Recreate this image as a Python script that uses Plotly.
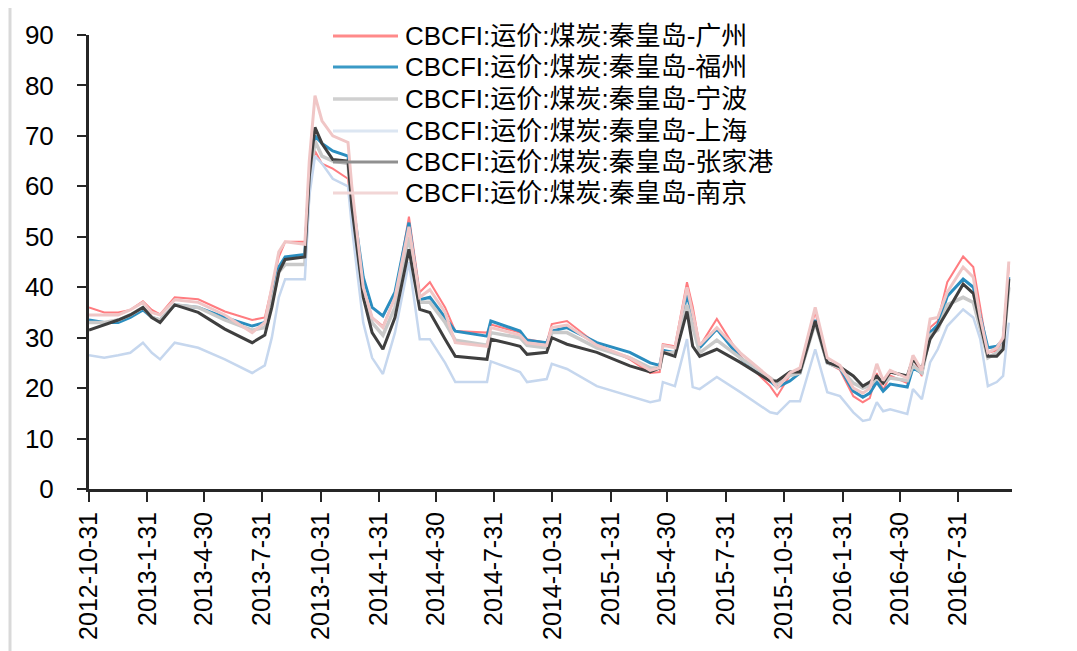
import plotly.graph_objects as go

dates = [
    "2012-10-31", "2012-11-24", "2012-12-16", "2013-01-04", "2013-01-24", "2013-02-07",
    "2013-02-20", "2013-03-15", "2013-04-21", "2013-06-02", "2013-07-15", "2013-08-04",
    "2013-08-15", "2013-08-26", "2013-09-05", "2013-10-06", "2013-10-13", "2013-10-22",
    "2013-11-02", "2013-11-19", "2013-12-13", "2013-12-19", "2014-01-06", "2014-01-20",
    "2014-02-06", "2014-02-25", "2014-03-19", "2014-04-05", "2014-04-21", "2014-05-15",
    "2014-05-31", "2014-07-20", "2014-07-26", "2014-09-10", "2014-09-21", "2014-10-22",
    "2014-10-30", "2014-11-23", "2015-01-09", "2015-03-02", "2015-04-03", "2015-04-18",
    "2015-04-23", "2015-05-12", "2015-05-31", "2015-06-09", "2015-06-20", "2015-07-17",
    "2015-08-23", "2015-10-09", "2015-10-20", "2015-11-09", "2015-11-25", "2015-12-19",
    "2016-01-07", "2016-01-27", "2016-02-17", "2016-03-03", "2016-03-14", "2016-03-25",
    "2016-04-04", "2016-04-15", "2016-05-12", "2016-05-21", "2016-06-04", "2016-06-17",
    "2016-06-29", "2016-07-14", "2016-08-08", "2016-08-24", "2016-09-04", "2016-09-16",
    "2016-09-30", "2016-10-10", "2016-10-19",
]

guangzhou = [36, 35, 35, 35.5, 37.2, 35.5, 34.6, 38, 37.6, 35.2, 33.5, 34,
             40, 46, 49, 49, 60, 67, 64.5, 63.5, 61.5, 55, 40, 34,
             32.3, 38, 54, 39, 41, 36, 31.3, 31, 32.6, 31, 29.7, 29,
             32.7, 33.3, 28.7, 25.7, 23, 23.2, 28.7, 28.3, 41, 36.2, 28.3, 33.7,
             26.3, 20.4, 18.4, 22.5, 23.8, 35.2, 25, 23.6, 18.4, 17.2, 18, 23,
             19.6, 22.5, 21, 26, 22.4, 32, 33.3, 41, 46.1, 44, 36, 27,
             27.5, 29.5, 44.2]
fuzhou = [33.5, 33, 33, 34, 35.5, 34, 33.5, 36.5, 36, 34, 32.3, 33,
          38, 44, 46, 46.5, 62, 70, 68.5, 67, 66, 58, 42, 36,
          34.3, 39, 52.8, 37.5, 38, 34, 31.3, 30.3, 33.3, 31.3, 29.5, 29,
          31.3, 32, 29, 27.1, 25, 24.5, 27.5, 27, 38.6, 34, 28, 31.7,
          26, 21.4, 20.2, 21.4, 23, 33.5, 25, 24, 19.4, 18.2, 19, 21.2,
          19.4, 20.8, 20.2, 24, 23, 31, 32.5, 38.2, 41.6, 40, 34, 28,
          28.3, 29.5, 42]
ningbo = [33, 33, 33.5, 34.5, 36, 34, 33.5, 36.5, 36, 33.5, 31.5, 32,
          37, 43, 44.5, 44.5, 60, 69, 66, 65, 64.5, 56, 39, 33,
          30.5, 36, 50, 37, 37, 33, 29.5, 28.5, 31, 30, 28.5, 28,
          31, 31, 28, 26, 24, 24, 27, 27, 36.5, 32, 27, 29.5,
          26, 22, 21, 22.5, 23, 33, 25, 24, 21, 20, 20.5, 22,
          21, 22, 21.5, 24.5, 23, 30.5, 31.5, 36.5, 38, 37, 32, 26,
          27, 28.5, 40]
shanghai = [26.5, 26, 26.5, 27, 29, 27, 25.7, 29, 28, 25.7, 23, 24.5,
            30, 38, 41.6, 41.6, 58, 66, 64.5, 61.5, 60, 52, 33, 26,
            22.8, 31, 45, 29.7, 29.7, 25, 21.2, 21.2, 25.3, 23.2, 21.2, 21.8,
            24.8, 23.8, 20.4, 18.4, 17.2, 17.6, 21.2, 20.4, 29.7, 20.2, 19.8, 22.2,
            19.2, 15.2, 14.9, 17.4, 17.4, 27.7, 19.2, 18.4, 15.2, 13.5, 13.8, 17.2,
            15.4, 15.8, 14.9, 19.8, 17.8, 25.1, 27.7, 32.3, 35.6, 34, 29.7, 20.4,
            21.2, 22.4, 33]
zhangjiagang = [31.5, 32.5, 33.5, 34.5, 36, 34, 33, 36.5, 35, 31.7, 29, 30.5,
                36, 43, 45.5, 46, 62, 71.7, 68.5, 65.3, 65, 56, 38, 31,
                27.7, 34, 47.5, 35.6, 35, 29.7, 26.3, 25.7, 29.7, 28.3, 26.7, 27.1,
                30, 28.7, 27.1, 24.4, 23.2, 24, 27.1, 26.3, 35.2, 28.3, 26.3, 27.7,
                25.1, 21.4, 21.4, 23.2, 23.2, 33.3, 25.1, 24.2, 22.4, 20.4, 21.2, 22.4,
                21, 23.2, 22.4, 25.7, 23.8, 29.7, 32, 35.2, 40.6, 38.8, 33, 26.3,
                26.3, 27.7, 41.6]
nanjing = [34.5, 34.5, 34.5, 35.5, 37, 35, 34.5, 37.5, 37, 34.5, 31, 33,
           40, 47, 49, 48.5, 65, 78, 73, 70, 68.7, 60, 40, 34,
           32, 38, 52, 38, 39.5, 35, 29, 28.3, 32, 30.5, 29, 28.5,
           32, 32.5, 28.5, 26, 23.5, 24, 28.5, 28, 40, 35, 28.5, 32,
           27, 22, 20, 23, 24, 36, 26, 24.5, 20, 19, 20, 24.8,
           21.5, 23.5, 22, 26.5, 23.5, 33.7, 34, 39, 44, 42, 34, 27,
           28, 30, 45.1]

series_names = [
    "CBCFI:运价:煤炭:秦皇岛-广州",
    "CBCFI:运价:煤炭:秦皇岛-福州",
    "CBCFI:运价:煤炭:秦皇岛-宁波",
    "CBCFI:运价:煤炭:秦皇岛-上海",
    "CBCFI:运价:煤炭:秦皇岛-张家港",
    "CBCFI:运价:煤炭:秦皇岛-南京",
]
series_values = [guangzhou, fuzhou, ningbo, shanghai, zhangjiagang, nanjing]
series_colors = ["#FF7C80", "#2A8DBF", "#C9C9C9", "#C6D7EE", "#3F3F3F", "#F0C6C6"]
legend_colors = ["#FF8A8A", "#3A9AC6", "#D0D0D0", "#DCE6F2", "#909090", "#F2D6D6"]
series_widths = [2, 3, 3.5, 2.5, 3, 3]

tick_dates = ["2012-10-31", "2013-01-31", "2013-04-30", "2013-07-31", "2013-10-31",
              "2014-01-31", "2014-04-30", "2014-07-31", "2014-10-31", "2015-01-31",
              "2015-04-30", "2015-07-31", "2015-10-31", "2016-01-31", "2016-04-30",
              "2016-07-31"]
tick_labels = ["2012-10-31", "2013-1-31", "2013-4-30", "2013-7-31", "2013-10-31",
               "2014-1-31", "2014-4-30", "2014-7-31", "2014-10-31", "2015-1-31",
               "2015-4-30", "2015-7-31", "2015-10-31", "2016-1-31", "2016-4-30",
               "2016-7-31"]
y_ticks = [0, 10, 20, 30, 40, 50, 60, 70, 80, 90]

FONT = "Liberation Sans, Arial, Noto Sans CJK SC"

# plot area on screen: x 89..1012, y 35..489 (page has 8px body margin)
PL, PR, PT, PB = 89, 1012, 35, 489
W_PLOT, H_PLOT = PR - PL, PB - PT


def px_x(x):
    return (x - PL) / W_PLOT


def px_y(y):
    return (PB - y) / H_PLOT


fig = go.Figure()
for name, vals, col, w in zip(series_names, series_values, series_colors, series_widths):
    fig.add_trace(go.Scatter(x=dates, y=vals, name=name, mode="lines",
                             line=dict(color=col, width=w), showlegend=False))

shapes = [dict(type="line", xref="paper", yref="paper",
               x0=px_x(10), x1=px_x(10), y0=px_y(8), y1=px_y(660),
               line=dict(color="#D9D9D9", width=3))]
annotations = []
legend_y = [36, 67, 99, 131, 162, 193]
for name, col, w, yy in zip(series_names, legend_colors, series_widths, legend_y):
    shapes.append(dict(type="line", xref="paper", yref="paper",
                       x0=px_x(333), x1=px_x(398), y0=px_y(yy), y1=px_y(yy),
                       line=dict(color=col, width=max(w, 3))))
    annotations.append(dict(xref="paper", yref="paper", x=px_x(403), y=px_y(yy),
                            xanchor="left", yanchor="middle", showarrow=False,
                            text=name, font=dict(family=FONT, size=26, color="#000000")))

fig.update_layout(
    width=1077, height=651,
    margin=dict(l=PL - 8, r=1077 + 8 - PR, t=PT - 8, b=651 + 8 - PB, autoexpand=False),
    paper_bgcolor="white", plot_bgcolor="white",
    font=dict(family=FONT, size=24, color="#000000"),
    showlegend=False,
    xaxis=dict(type="date", range=["2012-10-31", "2016-10-24"],
               tickvals=tick_dates, ticktext=tick_labels, tickangle=-90,
               showgrid=False, zeroline=False, showline=True,
               linecolor="#262626", linewidth=3, ticks="outside",
               ticklen=10, tickwidth=2, tickcolor="#262626",
               automargin=False, tickfont=dict(family=FONT, size=25)),
    yaxis=dict(range=[0, 90], tickvals=y_ticks, showgrid=False, zeroline=False,
               showline=True, linecolor="#262626", linewidth=3,
               ticks="outside", ticklen=9, tickwidth=2, tickcolor="#262626",
               ticklabelstandoff=18, automargin=False,
               tickfont=dict(family=FONT, size=26)),
    shapes=shapes,
    annotations=annotations,
)

fig.write_html("out.html")
